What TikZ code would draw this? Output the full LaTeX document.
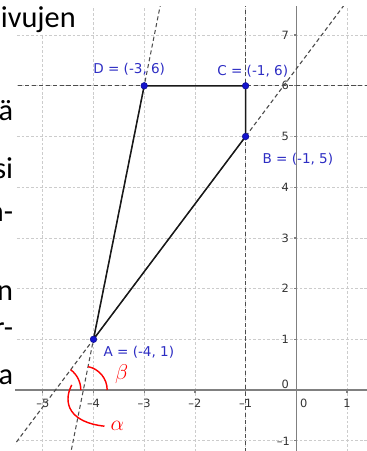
\documentclass[tikz,border=0pt]{standalone}
\usepackage{fontspec}
\setmainfont{Carlito}
\newfontfamily\ggfont{DejaVu Sans}
\usepackage{xcolor}
\usetikzlibrary{positioning,calc}
\definecolor{ptblue}{RGB}{20,20,205}
\definecolor{lblblue}{RGB}{45,45,195}
\definecolor{axgray}{RGB}{128,128,128}

\begin{document}
\begin{tikzpicture}[
    gridln/.style={gray!40,line width=0.35pt,dash pattern=on 1.5pt off 1.1pt},
    axln/.style={axgray,line width=0.7pt},
    ticklab/.style={font=\ggfont\fontsize{6.4}{8}\selectfont,text=black!80,inner sep=0pt},
    ptlab/.style={font=\ggfont\fontsize{7.6}{9}\selectfont,text=lblblue,inner sep=0pt,anchor=base},
    cons/.style={black!70,line width=0.6pt,dash pattern=on 2.3pt off 1.6pt},
    seg/.style={black!90,line width=0.85pt},
    ang/.style={red,line width=0.8pt},
    vtx/.style={fill=ptblue,draw=ptblue!70!black,line width=0.3pt},
    txt/.style={font=\fontsize{17}{20}\selectfont,inner sep=0pt,anchor=base east},
    ]
    \useasboundingbox (-5.844,-1.203) rectangle (1.394,7.692);
    \clip (-5.844,-1.203) rectangle (1.394,7.692);

    \coordinate (A) at (-4,1);
    \coordinate (B) at (-1,5);
    \coordinate (C) at (-1,6);
    \coordinate (D) at (-3,6);
    \coordinate (P) at ($(A)!-0.25!(B)$);
    \coordinate (Q) at ($(A)!-0.2!(D)$);

    \begin{scope}
      \clip (-5.548,-1.203) rectangle (1.394,7.554);
      \foreach \x in {-5,...,1} \draw[gridln] (\x,-1.3) -- (\x,7.6);
      \foreach \y in {-1,...,7} \draw[gridln] (-5.6,\y) -- (1.4,\y);
      \draw[axln] (-5.6,0) -- (1.4,0);
      \draw[axln] (0,-1.3) -- (0,7.6);
      \foreach \x in {-5,...,1} \draw[axln] (\x,0) -- (\x,-0.05);
      \foreach \y in {-1,...,7} \draw[axln] (0,\y) -- (-0.05,\y);
      \foreach \x/\t in {-5/{\textendash5},-4/{\textendash4},-3/{\textendash3},-2/{\textendash2},-1/{\textendash1},1/1}
        \node[ticklab] (xl\x) at (\x,-0.26) {\t};
      \node[ticklab] (xl0) at (0.146,-0.26) {0};
      \foreach \y in {1,...,7}
        \node[ticklab,anchor=east] (yl\y) at (-0.14,\y) {\y};
      \node[ticklab,anchor=east] (yl0) at (-0.14,0.115) {0};
      \node[ticklab,anchor=east] (ylm) at (-0.12,-1.02) {\textendash1};

      \draw[cons] ($(A)!-1!(B)$) -- ($(A)!2!(B)$);
      \draw[cons] ($(A)!-1!(D)$) -- ($(A)!2!(D)$);
      \draw[cons] ($(D)!-2!(C)$) -- ($(D)!3!(C)$);
      \draw[cons] ($(B)!-8!(C)$) -- ($(B)!4!(C)$);
    \end{scope}

    \draw[seg] (A) -- (B) -- (C) -- (D) -- cycle;

    \draw[ang] ($(Q)+(0.47,0)$) arc[start angle=0,end angle=78.69,radius=0.47];
    \draw[ang] ($(P)+(0.5,0)$) arc[start angle=0,end angle=53.13,radius=0.5];
    \node[text=red,font=\fontsize{13}{15}\selectfont] (bt) at (-3.444,0.322) {$\beta$};
    \node[text=red,font=\fontsize{13}{15}\selectfont] (al) at (-3.527,-0.714) {$\alpha$};
    \coordinate (lead) at (-4.43,0.10);
    \draw[ang] (lead) .. controls (-4.62,-0.28) and (-4.45,-0.64) .. (al.west);

    \foreach \p in {A,B,C,D} \filldraw[vtx] (\p) circle (0.065);
    \node[ptlab] (lA) at ($(A)+(0.895,-0.343)$) {A = (-4, 1)};
    \node[ptlab] (lB) at ($(B)+(1.031,-0.542)$) {B = (-1, 5)};
    \node[ptlab] (lC) at ($(C)+(0.14,0.193)$) {C = (-1, 6)};
    \node[ptlab] (lD) at ($(D)+(-0.296,0.233)$) {D = (-3, 6)};

    \fill[white] (-5.9,7.03) rectangle (-4.17,7.75);
    \node[txt] (t1) at (-4.343,7.140) {ivujen};
    \node[txt] (t2) at (-5.578,5.325) {ä};
    \node[txt] (t3) at (-5.578,4.162) {si};
    \node[txt] (t4) at (-5.578,3.333) {n-};
    \node[txt] (t5) at (-5.578,1.775) {n};
    \node[txt] (t6) at (-5.578,1.026) {r-};
    \node[txt] (t7) at (-5.578,0.099) {a};
  \end{tikzpicture}
\end{document}
